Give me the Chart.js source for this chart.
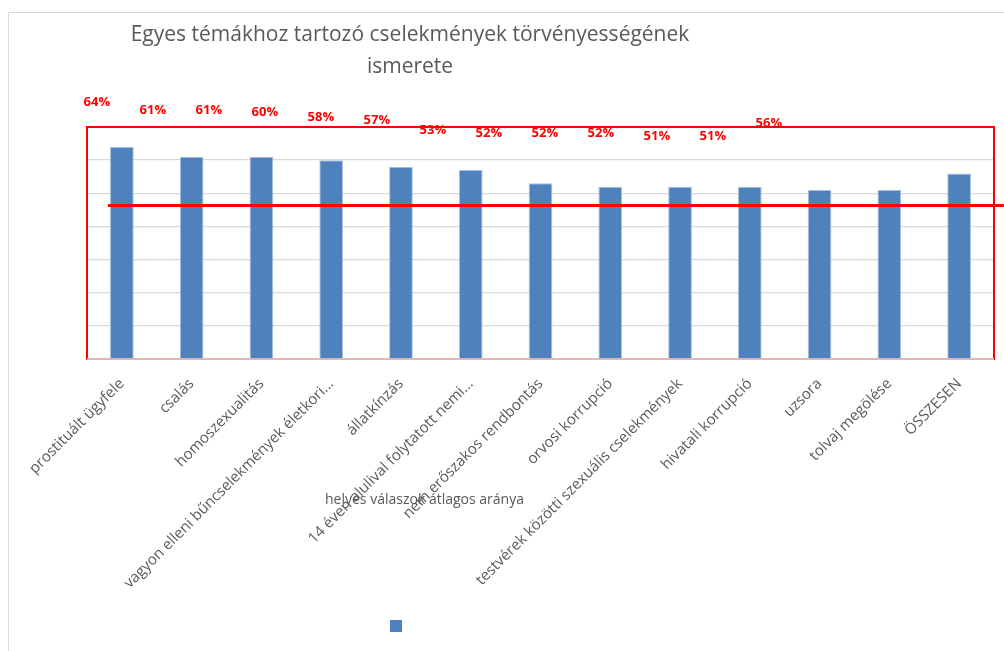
<!DOCTYPE html>
<html>
<head>
<meta charset="utf-8">
<script src="https://cdn.jsdelivr.net/npm/chart.js@4.4.1/dist/chart.umd.min.js"></script>
<style>
  html, body { margin: 0; padding: 0; background: #fff; }
  canvas { display: block; }
</style>
</head>
<body>
<canvas id="chart" width="1004" height="651"></canvas>
<script>
// chart data
const titleLines = ['Egyes témákhoz tartozó cselekmények törvényességének', 'ismerete'];
const categories = [
	'prostituált ügyfele',
	'csalás',
	'homoszexualitás',
	'vagyon elleni bűncselekmények életkori...',
	'állatkínzás',
	'14 éven alulival folytatott nemi...',
	'nem erőszakos rendbontás',
	'orvosi korrupció',
	'testvérek közötti szexuális cselekmények',
	'hivatali korrupció',
	'uzsora',
	'tolvaj megölése',
	'ÖSSZESEN'
];
const barValues = [64, 61, 61, 60, 58, 57, 53, 52, 52, 52, 51, 51, 56];
const avgLabel = 'helyes válaszok átlagos aránya';
const avgValue = 56;
const yTickValues = [0, 10, 20, 30, 40, 50, 60, 70];

const GRAY = '#595959';
const FONT = '"Open Sans", "Liberation Sans", sans-serif';

const decor = {
	id: 'decor',
	beforeDraw(chart) {
		const ctx = chart.ctx;
		ctx.save();
		// outer chart frame (cut off at right and bottom)
		ctx.strokeStyle = '#D9D9D9';
		ctx.lineWidth = 1;
		ctx.beginPath();
		ctx.moveTo(8.5, chart.height);
		ctx.lineTo(8.5, 12.5);
		ctx.lineTo(chart.width, 12.5);
		ctx.stroke();
		// title
		ctx.fillStyle = GRAY;
		ctx.font = '21px ' + FONT;
		ctx.textAlign = 'center';
		ctx.textBaseline = 'middle';
		titleLines.forEach((t, i) => ctx.fillText(t, 410, 35 + i * 32));
		ctx.restore();
	},
	beforeDatasetsDraw(chart) {
		const a = chart.chartArea;
		const ctx = chart.ctx;
		ctx.save();
		ctx.strokeStyle = '#FF0000';
		ctx.lineWidth = 2;
		ctx.strokeRect(a.left, a.top, a.right - a.left, a.bottom - a.top);
		ctx.strokeStyle = '#E3B6B6';
		ctx.beginPath();
		ctx.moveTo(a.left, a.bottom);
		ctx.lineTo(a.right, a.bottom);
		ctx.stroke();
		ctx.restore();
	},
	afterDatasetsDraw(chart) {
		const ctx = chart.ctx;
		ctx.save();
		// data labels
		const meta = chart.getDatasetMeta(1);
		ctx.fillStyle = '#FF0000';
		ctx.font = 'bold 13px ' + FONT;
		ctx.textAlign = 'center';
		ctx.textBaseline = 'middle';
		meta.data.forEach((pt, i) => {
			ctx.fillText(barValues[i] + '%', pt.x, pt.y);
		});
		// legend
		ctx.fillStyle = GRAY;
		ctx.font = '14px ' + FONT;
		ctx.textAlign = 'left';
		ctx.fillText(chart.data.datasets[2].label, 325, 500);
		ctx.fillStyle = chart.data.datasets[0].backgroundColor;
		ctx.fillRect(390, 620, 12, 12);
		ctx.restore();
	}
};

new Chart(document.getElementById('chart'), {
	type: 'bar',
	data: {
		labels: categories,
		datasets: [{
			label: '',
			data: barValues,
			backgroundColor: '#4F81BD',
			borderColor: '#A9C1E0',
			borderWidth: 1,
			grouped: false,
			barPercentage: 0.34,
			categoryPercentage: 1,
			order: 3
		}, {
			type: 'line',
			label: 'labels',
			data: barValues.map((v, i) => ({ x: i, y: v })),
			xAxisID: 'xLab',
			yAxisID: 'yLab',
			showLine: false,
			pointRadius: 0,
			clip: false,
			order: 2
		}, {
			type: 'line',
			label: avgLabel,
			data: [{ x: 0, y: avgValue }, { x: 1, y: avgValue }],
			xAxisID: 'xAvg',
			yAxisID: 'yAvg',
			borderColor: '#FF0000',
			borderWidth: 3,
			pointRadius: 0,
			clip: false,
			order: 1
		}]
	},
	options: {
		responsive: false,
		animation: false,
		layout: { padding: { left: 87, right: 10, top: 127, bottom: 0 } },
		plugins: {
			legend: { display: false },
			title: { display: false },
			tooltip: { enabled: false }
		},
		scales: {
			x: {
				grid: { display: false, drawTicks: false },
				border: { display: false },
				ticks: {
					autoSkip: false,
					minRotation: 45,
					maxRotation: 45,
					padding: 16,
					color: GRAY,
					font: { family: FONT, size: 15 }
				},
				afterFit: s => { s.height = 292; }
			},
			y: {
				min: yTickValues[0],
				max: yTickValues[yTickValues.length - 1],
				ticks: { display: false, stepSize: yTickValues[1] - yTickValues[0] },
				grid: { color: '#D9D9D9', lineWidth: 1.3, drawTicks: false },
				border: { display: false },
				afterFit: s => { s.width = 0; }
			},
			xLab: { type: 'linear', display: false, offset: false, min: -0.176, max: 16.02 },
			yLab: { type: 'linear', display: false, min: -34.77, max: 54.46 },
			xAvg: { type: 'linear', display: false, offset: false, min: -0.0234, max: 0.989 },
			yAvg: { type: 'linear', display: false, min: 0, max: 84.7 }
		}
	},
	plugins: [decor]
});
</script>
</body>
</html>
